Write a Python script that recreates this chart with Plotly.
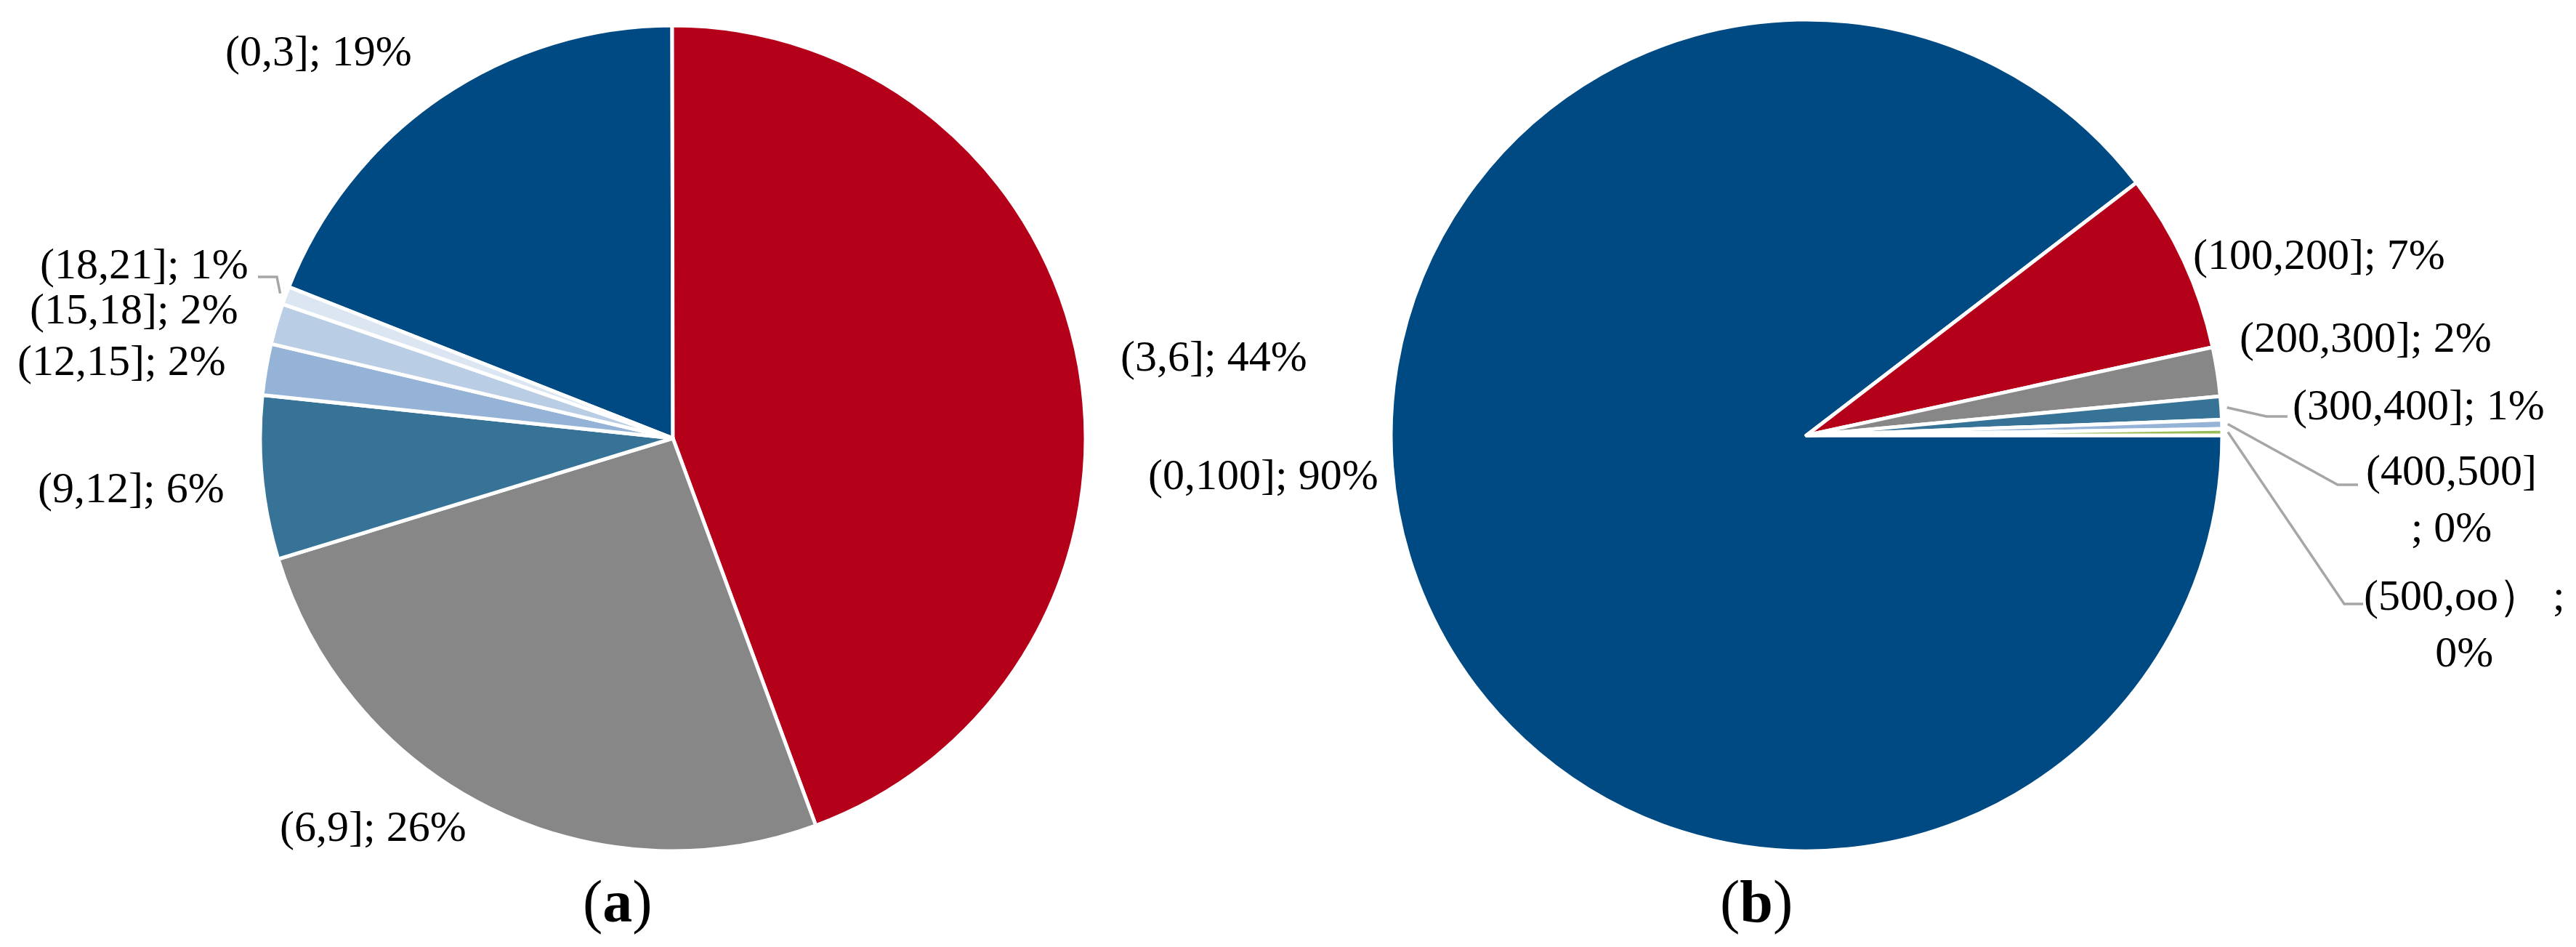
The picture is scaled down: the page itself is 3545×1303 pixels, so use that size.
import math
import plotly.graph_objects as go

# (a) share of samples per interval
labels_a = ["(0,3]", "(3,6]", "(6,9]", "(9,12]", "(12,15]", "(15,18]", "(18,21]"]
values_a = [19.0, 44.4, 25.9, 6.4, 2.0, 1.6, 0.7]
colors_a = ["#004A84", "#B5001A", "#878787", "#367396", "#95B3D7", "#B9CDE5", "#DCE6F2"]

# (b) share of samples per interval
labels_b = ["(0,100]", "(100,200]", "(200,300]", "(300,400]", "(400,500]", "(500,oo）"]
values_b = [89.6, 7.0, 1.9, 0.9, 0.35, 0.25]
colors_b = ["#004A84", "#B5001A", "#878787", "#367396", "#95B3D7", "#9BBB59"]

W, H = 3545, 1303
FONT = "Liberation Serif"
FS = 60

# pie geometry in pixels: centre x, centre y, radius, start angle (clockwise from 12 o'clock)
PIE_A = dict(cx=918, cy=595, r=568, start=-68.5)
PIE_B = dict(cx=2478, cy=591, r=572, start=90)

# label centres (px) and optional leader line (elbow x, elbow y, end x)
pos_a = [(430, 62), (1662, 482), (505, 1129), (172, 663), (159, 488), (176, 417), (190, 355)]
lead_a = {6: (373, 373, 347)}
pos_b = [(1730, 645), (3183, 342), (3247, 456), (3320, 549), (3365, 678), (3383, 850)]
lead_b = {3: (3111, 565, 3140), 4: (3209, 659, 3237), 5: (3218, 823, 3244)}
wrap_b = {4: "{lab}<br>; {pct}", 5: "{lab} ;<br>{pct}"}


def px(x, y):
    return x / W, 1 - y / H


def domain(p):
    return dict(x=[(p["cx"] - p["r"]) / W, (p["cx"] + p["r"]) / W],
                y=[1 - (p["cy"] + p["r"]) / H, 1 - (p["cy"] - p["r"]) / H])


def mid_angles(values, start):
    tot = sum(values)
    out, acc = [], 0
    for v in values:
        out.append(start + (acc + v / 2) / tot * 360)
        acc += v
    return out


fig = go.Figure()

for labels, values, colors, p in [(labels_a, values_a, colors_a, PIE_A),
                                  (labels_b, values_b, colors_b, PIE_B)]:
    fig.add_trace(go.Pie(
        labels=labels,
        values=values,
        sort=False,
        direction="clockwise",
        rotation=p["start"],
        marker=dict(colors=colors, line=dict(color="white", width=5)),
        textinfo="none",
        domain=domain(p),
        showlegend=False,
    ))


def add_labels(labels, values, p, pos, leads, wraps):
    tot = sum(values)
    mids = mid_angles(values, p["start"])
    for i, (lab, v) in enumerate(zip(labels, values)):
        pct = f"{round(v / tot * 100):d}%"
        tmpl = wraps.get(i, "{lab}; {pct}")
        x, y = px(*pos[i])
        fig.add_annotation(
            text=tmpl.format(lab=lab, pct=pct), x=x, y=y,
            xref="paper", yref="paper", showarrow=False,
            xanchor="center", yanchor="middle", align="center",
            font=dict(family=FONT, size=FS, color="black"),
        )
        if i in leads:
            ex, ey, tx = leads[i]
            a = math.radians(mids[i])
            sx = p["cx"] + (p["r"] + 8) * math.sin(a)
            sy = p["cy"] - (p["r"] + 8) * math.cos(a)
            pts = [px(sx, sy), px(ex, ey), px(tx, ey)]
            path = "M " + " L ".join(f"{a_:.5f},{b_:.5f}" for a_, b_ in pts)
            fig.add_shape(type="path", path=path, xref="paper", yref="paper",
                          line=dict(color="#A6A6A6", width=3.5))


add_labels(labels_a, values_a, PIE_A, pos_a, lead_a, {})
add_labels(labels_b, values_b, PIE_B, pos_b, lead_b, wrap_b)

for txt, x in [("(<b>a</b>)", 842), ("(<b>b</b>)", 2409)]:
    ax, ay = px(x, 1232)
    fig.add_annotation(
        text=txt, x=ax, y=ay, xref="paper", yref="paper",
        xanchor="center", yanchor="middle",
        showarrow=False, font=dict(family=FONT, size=82, color="black"),
    )

fig.update_layout(
    width=W, height=H,
    margin=dict(l=0, r=0, t=0, b=0),
    paper_bgcolor="white",
    plot_bgcolor="white",
)

fig.write_html("out.html")
